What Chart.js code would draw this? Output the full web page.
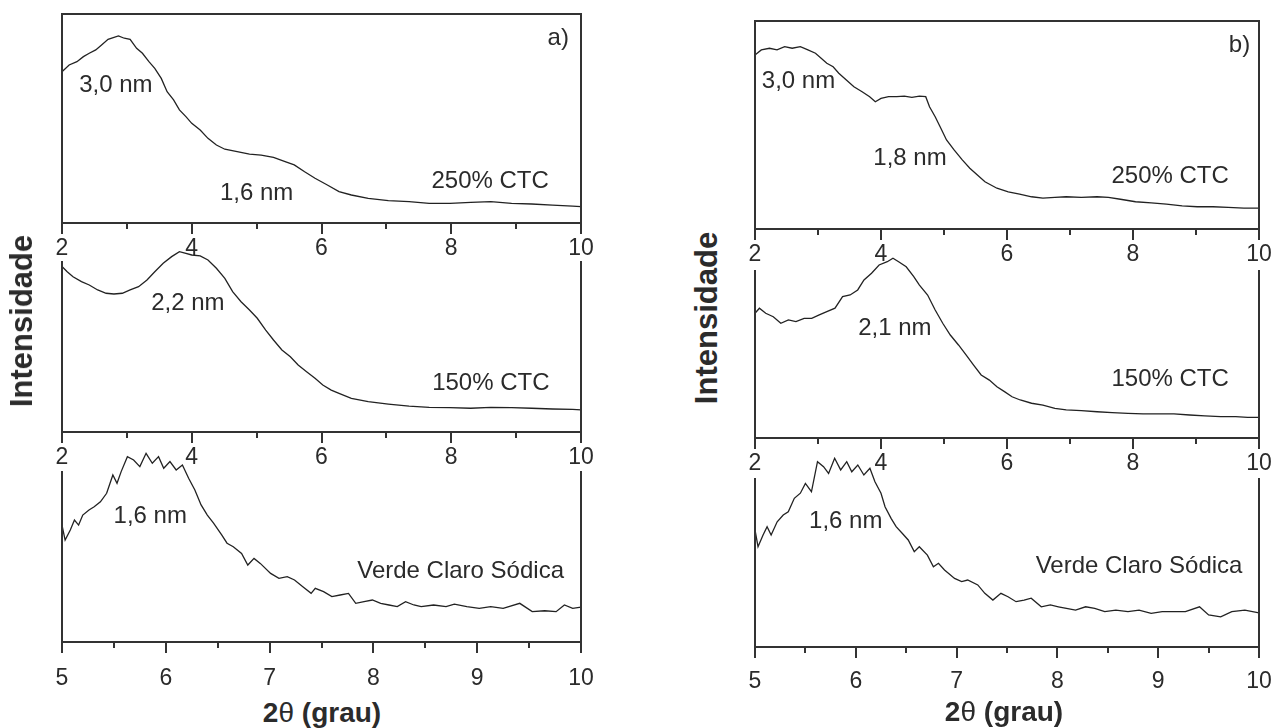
<!DOCTYPE html>
<html>
<head>
<meta charset="utf-8">
<script src="https://cdn.jsdelivr.net/npm/chart.js"></script>
<style>
    body { margin: 0; background: #fff; width: 1285px; height: 728px; position: relative; overflow: hidden;
           font-family: "Liberation Sans", Arial, sans-serif; color: #2b2b2b; }
    canvas { position: absolute; }
    .titulo { position: absolute; font-weight: bold; white-space: nowrap; color: #2b2b2b; }
    .eixoY { font-size: 31px; transform: translate(-50%, -50%) rotate(-90deg); }
    .eixoX { font-size: 28px; transform: translate(-50%, -50%); }
    .eixoX span { font-weight: normal; }
</style>
</head>
<body>

<canvas id="a1"></canvas><canvas id="a2"></canvas><canvas id="a3"></canvas>
<canvas id="b1"></canvas><canvas id="b2"></canvas><canvas id="b3"></canvas>

<div class="titulo eixoY" style="left:22px; top:321px">Intensidade</div>
<div class="titulo eixoY" style="left:707px; top:318px">Intensidade</div>
<div class="titulo eixoX" style="left:322px; top:713px">2<span>θ</span> (grau)</div>
<div class="titulo eixoX" style="left:1004px; top:712px">2<span>θ</span> (grau)</div>

<script>
// - Dados (2θ em graus, intensidade relativa) -

// a) 250% CTC
const theta250a = [2.0, 2.11, 2.23, 2.33, 2.42, 2.52, 2.61, 2.71, 2.87, 2.96, 3.05, 3.15, 3.24, 3.34, 3.43, 3.53, 3.62, 3.72, 3.81, 3.91,
    4.0, 4.13, 4.25, 4.38, 4.51, 4.70, 4.89, 5.07, 5.26, 5.45, 5.58, 5.74, 5.90, 6.09, 6.27, 6.46, 6.72, 7.03, 7.35, 7.66,
    7.98, 8.30, 8.61, 8.93, 9.24, 9.56, 9.87, 10.0];
const int250a = [72.4, 75.6, 77.2, 79.6, 81.2, 82.8, 85.2, 87.9, 89.5, 88.4, 87.9, 83.6, 81.2, 77.2, 74.0, 69.2, 62.8, 58.9, 54.1, 50.9,
    47.7, 44.5, 40.5, 37.3, 35.3, 34.1, 33.0, 32.5, 31.4, 29.3, 27.8, 24.5, 21.4, 18.2, 15.0, 13.4, 11.8, 10.7, 10.2, 9.4,
    9.4, 9.9, 10.2, 9.4, 9.1, 8.6, 8.1, 7.8];

// a) 150% CTC
const theta150a = [2.0, 2.08, 2.17, 2.30, 2.42, 2.55, 2.68, 2.80, 2.93, 3.05, 3.18, 3.31, 3.43, 3.56, 3.69, 3.81, 3.91, 4.0, 4.13, 4.25,
    4.38, 4.51, 4.63, 4.76, 4.89, 5.01, 5.14, 5.26, 5.39, 5.52, 5.64, 5.77, 5.90, 6.02, 6.15, 6.27, 6.46, 6.72, 7.03, 7.35,
    7.66, 7.98, 8.30, 8.61, 8.93, 9.24, 9.56, 9.87, 10.0];
const int150a = [89.9, 87.1, 84.4, 81.7, 79.9, 77.2, 75.4, 75.0, 75.4, 77.2, 79.0, 82.6, 87.1, 91.7, 95.3, 98.0, 97.1, 96.2, 95.7, 93.5,
    89.0, 83.5, 76.3, 70.8, 66.3, 61.8, 55.4, 50.0, 44.6, 40.9, 36.4, 32.8, 29.2, 25.5, 22.8, 21.0, 18.3, 16.5, 15.2, 14.1,
    13.4, 13.2, 12.9, 13.4, 13.2, 12.9, 12.5, 12.3, 12.0];

// a) Verde Claro Sódica
const thetaSodicaA = [5.0, 5.03, 5.08, 5.12, 5.16, 5.20, 5.26, 5.31, 5.37, 5.43, 5.49, 5.53, 5.57, 5.63, 5.69, 5.75, 5.81, 5.87, 5.93, 5.98,
    6.04, 6.10, 6.16, 6.22, 6.28, 6.34, 6.40, 6.46, 6.54, 6.59, 6.65, 6.73, 6.79, 6.85, 6.91, 7.01, 7.09, 7.17, 7.24, 7.32,
    7.40, 7.44, 7.52, 7.60, 7.68, 7.76, 7.83, 7.91, 7.99, 8.07, 8.15, 8.23, 8.31, 8.39, 8.46, 8.58, 8.70, 8.78, 8.90, 9.02,
    9.13, 9.25, 9.41, 9.53, 9.65, 9.76, 9.84, 9.92, 10.0];
const intSodicaA = [63.2, 55.1, 60.5, 65.9, 63.2, 68.6, 71.4, 73.1, 75.8, 80.4, 90.3, 85.8, 92.1, 100.2, 98.4, 94.8, 102.0, 96.6, 100.2, 93.9,
    97.5, 93.0, 95.7, 88.5, 82.2, 74.1, 68.6, 64.2, 57.8, 53.4, 51.5, 47.9, 41.6, 45.2, 42.5, 37.1, 34.4, 35.3, 33.5, 29.9,
    26.3, 29.0, 27.2, 24.5, 25.4, 26.3, 20.9, 21.8, 22.7, 20.9, 20.0, 19.1, 21.8, 20.0, 19.1, 20.0, 19.1, 20.5, 19.1, 18.2,
    19.1, 18.2, 20.9, 16.4, 16.9, 16.4, 20.0, 18.2, 18.8];

// b) 250% CTC
const theta250b = [2.0, 2.10, 2.23, 2.35, 2.47, 2.59, 2.72, 2.84, 2.96, 3.05, 3.14, 3.24, 3.33, 3.45, 3.57, 3.70, 3.82, 3.91, 4.00, 4.12,
    4.25, 4.37, 4.49, 4.61, 4.71, 4.77, 4.86, 4.95, 5.04, 5.16, 5.29, 5.41, 5.53, 5.65, 5.84, 6.02, 6.20, 6.39, 6.57, 6.76,
    6.94, 7.18, 7.43, 7.61, 7.80, 8.04, 8.29, 8.53, 8.78, 9.02, 9.27, 9.51, 9.76, 10.0];
const int250b = [83.7, 86.1, 86.9, 86.1, 87.7, 86.9, 87.7, 86.1, 84.5, 82.1, 79.7, 78.0, 74.9, 71.6, 68.4, 66.0, 63.6, 61.2, 62.8, 63.6,
    63.6, 63.9, 63.3, 63.9, 63.6, 58.8, 54.0, 48.4, 42.8, 38.0, 33.2, 29.2, 26.0, 22.7, 19.6, 17.9, 16.8, 15.5, 14.8, 15.2,
    15.5, 15.2, 15.5, 15.2, 14.3, 13.1, 12.6, 12.0, 11.1, 10.7, 10.7, 10.4, 10.0, 10.0];

// b) 150% CTC
const theta150b = [2.0, 2.07, 2.17, 2.29, 2.41, 2.53, 2.65, 2.78, 2.90, 3.02, 3.14, 3.27, 3.39, 3.51, 3.63, 3.73, 3.85, 3.97, 4.10, 4.19,
    4.28, 4.40, 4.52, 4.61, 4.74, 4.86, 4.98, 5.10, 5.23, 5.35, 5.47, 5.59, 5.72, 5.84, 5.96, 6.08, 6.21, 6.39, 6.57, 6.76,
    6.94, 7.18, 7.43, 7.67, 7.92, 8.16, 8.41, 8.65, 8.90, 9.14, 9.39, 9.63, 9.82, 10.0];
const int150b = [68.9, 71.7, 68.9, 67.0, 63.4, 65.2, 64.3, 66.1, 66.1, 68.0, 69.8, 71.7, 78.1, 79.0, 81.8, 87.3, 91.0, 95.6, 97.4, 99.3,
    97.4, 94.6, 89.1, 84.5, 79.0, 70.7, 63.4, 56.9, 51.4, 45.9, 40.3, 34.8, 32.0, 28.3, 25.6, 22.8, 21.0, 19.2, 18.2, 16.4,
    15.5, 15.1, 14.5, 14.0, 13.6, 13.3, 13.3, 13.3, 12.7, 12.2, 11.8, 11.8, 11.4, 11.4];

// b) Verde Claro Sódica
const thetaSodicaB = [5.0, 5.03, 5.08, 5.12, 5.16, 5.22, 5.28, 5.33, 5.39, 5.45, 5.50, 5.56, 5.62, 5.68, 5.73, 5.79, 5.85, 5.91, 5.96, 6.02,
    6.08, 6.14, 6.19, 6.25, 6.29, 6.35, 6.40, 6.46, 6.52, 6.58, 6.63, 6.71, 6.77, 6.82, 6.88, 6.98, 7.05, 7.11, 7.21, 7.28,
    7.36, 7.44, 7.51, 7.59, 7.67, 7.74, 7.84, 7.93, 8.01, 8.09, 8.18, 8.28, 8.37, 8.47, 8.58, 8.70, 8.81, 8.93, 9.04, 9.16,
    9.27, 9.41, 9.50, 9.62, 9.73, 9.86, 10.0];
const intSodicaB = [64.3, 55.1, 61.5, 66.1, 61.5, 68.8, 72.5, 74.3, 81.7, 84.5, 89.9, 85.3, 101.8, 99.1, 95.4, 103.7, 97.3, 101.8, 96.3, 100.0,
    94.5, 98.2, 90.8, 84.5, 77.1, 70.7, 66.1, 62.5, 58.8, 52.4, 55.1, 50.5, 44.1, 46.0, 42.3, 37.7, 35.9, 36.8, 34.1, 29.5,
    25.8, 29.5, 27.6, 24.9, 25.8, 26.8, 22.1, 23.1, 22.1, 21.2, 20.3, 22.1, 21.2, 19.4, 20.3, 19.4, 20.3, 18.5, 19.4, 19.4,
    19.4, 22.1, 17.6, 16.6, 19.4, 20.3, 18.8];

// rótulos dos eixos x (marcas maiores) e passo das marcas menores
const ticksCTC = [2, 4, 6, 8, 10];
const ticksSodica = [5, 6, 7, 8, 9, 10];

// - Configuração visual -
const corTraco = "#222";
const corTexto = "#2b2b2b";
const corEixo = "#333";
const fonte = "'Liberation Sans', Arial, sans-serif";

// Moldura (linhas laterais e topo) + marcas menores do eixo x
function pluginMoldura(topo, inicio, passoMenor, rotulosTicks) {
    return {
        id: "moldura",
        afterDraw(chart) {
            const { ctx, chartArea: a } = chart;
            const sx = chart.scales.x;
            ctx.save();
            ctx.strokeStyle = corEixo;
            ctx.lineWidth = 2;
            ctx.beginPath();
            ctx.moveTo(a.left, a.top + inicio);
            ctx.lineTo(a.left, a.bottom);
            ctx.moveTo(a.right, a.top + inicio);
            ctx.lineTo(a.right, a.bottom);
            if (topo) {
                ctx.moveTo(a.left - 1, a.top);
                ctx.lineTo(a.right + 1, a.top);
            }
            // marcas menores (sem rótulo)
            for (let v = sx.min; v <= sx.max + 1e-9; v += passoMenor) {
                const val = Math.round(v * 100) / 100;
                if (rotulosTicks.includes(val)) continue;
                const px = Math.round(sx.getPixelForValue(val));
                ctx.moveTo(px, a.bottom);
                ctx.lineTo(px, a.bottom + 6);
            }
            ctx.stroke();
            ctx.restore();
        }
    };
}

// Textos dentro do gráfico, posicionados em coordenadas dos dados
function pluginRotulos(rotulos) {
    return {
        id: "rotulos",
        afterDatasetsDraw(chart) {
            const ctx = chart.ctx;
            const sx = chart.scales.x, sy = chart.scales.y;
            ctx.save();
            ctx.fillStyle = corTexto;
            ctx.font = "24px " + fonte;
            ctx.textAlign = "center";
            ctx.textBaseline = "middle";
            rotulos.forEach(function (r) {
                ctx.fillText(r.texto, sx.getPixelForValue(r.x), sy.getPixelForValue(r.y));
            });
            ctx.restore();
        }
    };
}

function criarGrafico(id, caixa, xs, ys, rotulosTicks, passoMenor, rotulos, topo, inicio, folgaRotulo) {
    const canvas = document.getElementById(id);
    const padL = 30, padR = 30, padT = 10;
    const alturaEixo = 11 + folgaRotulo + 30;
    canvas.width = caixa.r - caixa.l + padL + padR;
    canvas.height = caixa.b - caixa.t + padT + alturaEixo;
    canvas.style.left = (caixa.l - padL) + "px";
    canvas.style.top = (caixa.t - padT) + "px";

    const pontos = xs.map(function (x, i) { return { x: x, y: ys[i] }; });
    const xmin = rotulosTicks[0], xmax = rotulosTicks[rotulosTicks.length - 1];

    return new Chart(canvas, {
        type: "line",
        data: {
            datasets: [{
                data: pontos,
                borderColor: corTraco,
                borderWidth: 1.3,
                pointRadius: 0,
                tension: 0,
                clip: false
            }]
        },
        options: {
            responsive: false,
            animation: false,
            events: [],
            layout: { padding: { left: padL, right: padR, top: padT, bottom: 0 } },
            plugins: { legend: { display: false }, tooltip: { enabled: false } },
            scales: {
                x: {
                    type: "linear",
                    min: xmin,
                    max: xmax,
                    afterFit: function (s) { s.height = alturaEixo; },
                    border: { display: true, color: corEixo, width: 2 },
                    grid: { drawOnChartArea: false, drawTicks: true, tickLength: 11, color: corEixo, lineWidth: 2 },
                    ticks: {
                        stepSize: rotulosTicks[1] - rotulosTicks[0],
                        autoSkip: false,
                        maxRotation: 0,
                        padding: folgaRotulo,
                        color: corTexto,
                        font: { size: 23, family: fonte }
                    }
                },
                y: { display: false, min: 0, max: 100 }
            }
        },
        plugins: [pluginMoldura(topo, inicio, passoMenor, rotulosTicks), pluginRotulos(rotulos)]
    });
}

// - Posição das caixas na página -
const caixaA1 = { l: 62, r: 581, t: 14, b: 223 };
const caixaA2 = { l: 62, r: 581, t: 248, b: 432 };
const caixaA3 = { l: 62, r: 581, t: 457, b: 642 };
const caixaB1 = { l: 755, r: 1259, t: 21, b: 229 };
const caixaB2 = { l: 755, r: 1259, t: 257, b: 438 };
const caixaB3 = { l: 755, r: 1259, t: 465, b: 647 };

// painel a)
criarGrafico("a1", caixaA1, theta250a, int250a, ticksCTC, 1, [
    { texto: "a)", x: 9.65, y: 88.5 },
    { texto: "3,0 nm", x: 2.83, y: 66 },
    { texto: "1,6 nm", x: 5.0, y: 14.4 },
    { texto: "250% CTC", x: 8.6, y: 20.1 }
], true, 0, 1);
criarGrafico("a2", caixaA2, theta150a, int150a, ticksCTC, 1, [
    { texto: "2,2 nm", x: 3.94, y: 70 },
    { texto: "150% CTC", x: 8.61, y: 26.4 }
], false, 13, 1);
criarGrafico("a3", caixaA3, thetaSodicaA, intSodicaA, ticksSodica, 0.5, [
    { texto: "1,6 nm", x: 5.85, y: 68.1 },
    { texto: "Verde Claro Sódica", x: 8.84, y: 38.4 }
], false, 14, 12);

// painel b)
criarGrafico("b1", caixaB1, theta250b, int250b, ticksCTC, 1, [
    { texto: "b)", x: 9.69, y: 88.5 },
    { texto: "3,0 nm", x: 2.69, y: 70.8 },
    { texto: "1,8 nm", x: 4.46, y: 34 },
    { texto: "250% CTC", x: 8.59, y: 25.2 }
], true, 0, 1);
criarGrafico("b2", caixaB2, theta150b, int150b, ticksCTC, 1, [
    { texto: "2,1 nm", x: 4.22, y: 60.6 },
    { texto: "150% CTC", x: 8.59, y: 32.4 }
], false, 13, 1);
criarGrafico("b3", caixaB3, thetaSodicaB, intSodicaB, ticksSodica, 0.5, [
    { texto: "1,6 nm", x: 5.9, y: 68.8 },
    { texto: "Verde Claro Sódica", x: 8.81, y: 44.1 }
], false, 13, 10);
</script>
</body>
</html>
